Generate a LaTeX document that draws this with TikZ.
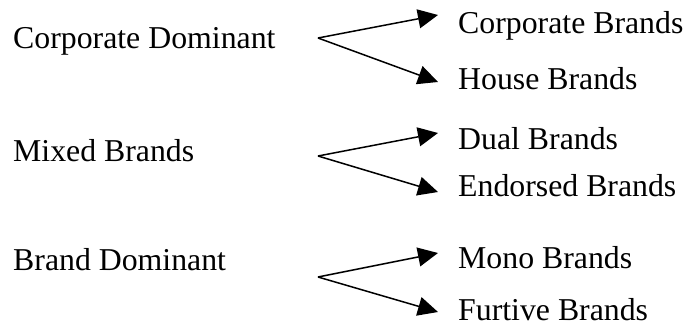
\documentclass[tikz,border=0pt]{standalone}
\usepackage{fontspec}
\setmainfont{Liberation Serif}
\usetikzlibrary{arrows.meta}
\begin{document}
\begin{tikzpicture}[x=1pt,y=-1pt,
  lbl/.style={anchor=base west,inner sep=0pt,font=\fontsize{31.8}{36}\selectfont},
  conn/.style={line width=1.5pt,-{Triangle[length=20pt,width=19pt]}}]
\useasboundingbox (0,0) rectangle (685,329);
% left labels
\node[lbl] (cd) at (13,48.5) {Corporate Dominant};
\node[lbl] (mb) at (13,161) {Mixed Brands};
\node[lbl] (bd) at (13,270) {Brand Dominant};
% right labels
\node[lbl] (cb) at (458,33.5) {Corporate Brands};
\node[lbl] (hb) at (458,89) {House Brands};
\node[lbl] (db) at (458,149) {Dual Brands};
\node[lbl] (eb) at (458,196) {Endorsed Brands};
\node[lbl] (mo) at (458,268) {Mono Brands};
\node[lbl] (fb) at (458,320) {Furtive Brands};
% vertices and tips
\coordinate (v1) at (318,38);
\coordinate (v2) at (318,156);
\coordinate (v3) at (318,277);
\coordinate (t1a) at (438,15);
\coordinate (t1b) at (438,82);
\coordinate (t2a) at (438,133);
\coordinate (t2b) at (438,192);
\coordinate (t3a) at (438,253);
\coordinate (t3b) at (438,312);
\draw[conn] (v1) -- (t1a);
\draw[conn] (v1) -- (t1b);
\draw[conn] (v2) -- (t2a);
\draw[conn] (v2) -- (t2b);
\draw[conn] (v3) -- (t3a);
\draw[conn] (v3) -- (t3b);
\end{tikzpicture}
\end{document}
